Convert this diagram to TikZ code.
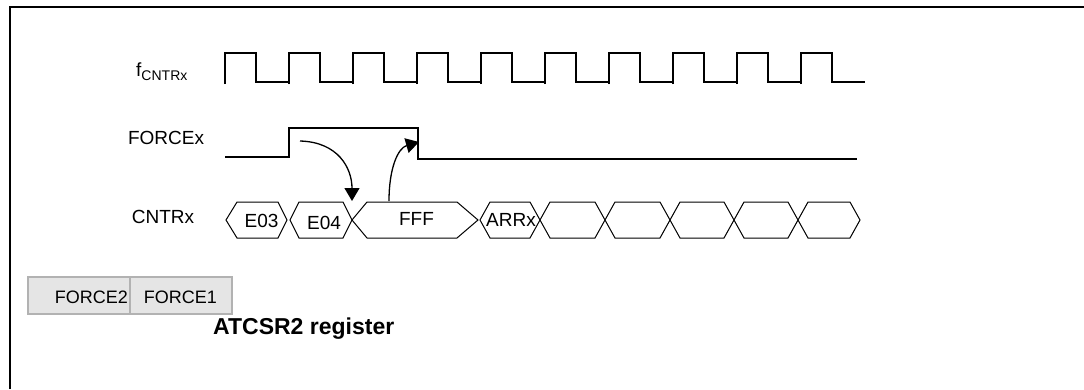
\documentclass[tikz,border=0pt]{standalone}
\usepackage{fontspec}
\setmainfont{Liberation Sans}
\usetikzlibrary{arrows.meta}
\newcommand\hexbus[4]{%
  \draw[bus] (#1,220) -- ({#1+#3},202) -- ({#2-#4},202) -- (#2,220) -- ({#2-#4},238) -- ({#1+#3},238) -- cycle;}
\begin{document}
\begin{tikzpicture}[x=1pt,y=-1pt,
  sig/.style={line width=2pt,line join=miter},
  bus/.style={line width=1pt,line join=miter},
  arr/.style={line width=1.3pt,-{Triangle[length=13pt,width=15pt]}},
  lbl/.style={font=\fontsize{19}{19}\selectfont,inner sep=0pt,anchor=base},
  reg/.style={draw=black!30,fill=black!10,line width=1.5pt},
  reglbl/.style={font=\fontsize{18}{18}\selectfont,inner sep=0pt,anchor=base}]
\useasboundingbox (0,0) rectangle (1084,389);
% frame
\draw[line width=2.5pt] (10,389) -- (10,7) -- (1084,7);
% clock
\foreach \k in {0,...,9}{
  \pgfmathsetmacro\xa{224.5+64*\k}
  \pgfmathsetmacro\xb{\xa+31.5}
  \pgfmathsetmacro\xc{\xa+64}
  \draw[sig] (\xa,84) -- (\xa,53) -- (\xb,53) -- (\xb,82) -- (\xc,82);
}
\node[lbl,anchor=base west] (fclk) at (136,76) {f\raisebox{-4pt}{\fontsize{14}{14}\selectfont CNTRx}};
% FORCEx
\draw[sig] (225,157) -- (289,157) -- (289,128) -- (418,128) -- (418,159) -- (857,159);
\node[lbl] (force) at (166,144) {FORCEx};
% CNTRx bus
\node[lbl] (cntr) at (163,223) {CNTRx};
\hexbus{226}{287}{11}{9}
\hexbus{290}{352}{9}{9}
\hexbus{352}{478}{15}{21}
\hexbus{480}{540}{10}{10}
\hexbus{540}{605}{10}{10}
\hexbus{605}{670}{10}{10}
\hexbus{670}{734}{10}{10}
\hexbus{734}{798}{10}{10}
\hexbus{798}{860}{10}{10}
\node[lbl] (e03) at (261.5,227) {E03};
\node[lbl] (e04) at (324,229) {E04};
\node[lbl] (fff) at (416.5,225) {FFF};
\node[lbl] (arr) at (511,226) {ARRx};
% arrows
\coordinate (a1s) at (300,141);
\coordinate (a1e) at (352,201);
\coordinate (a2s) at (389,201);
\coordinate (a2e) at (419,142);
\draw[arr] (a1s) .. controls (338,142) and (352,168) .. (a1e);
\draw[arr] (a2s) .. controls (389,168) and (398,148) .. (a2e);
% register
\draw[reg] (28,277) rectangle (130,314);
\draw[reg] (130,277) rectangle (232,314);
\node[reglbl] (f2) at (91.5,303) {FORCE2};
\node[reglbl] (f1) at (180.5,303) {FORCE1};
\node[inner sep=0pt,anchor=base west,font=\fontsize{23}{23}\selectfont\bfseries] (atc) at (213,334) {ATCSR2 register};
\end{tikzpicture}
\end{document}
